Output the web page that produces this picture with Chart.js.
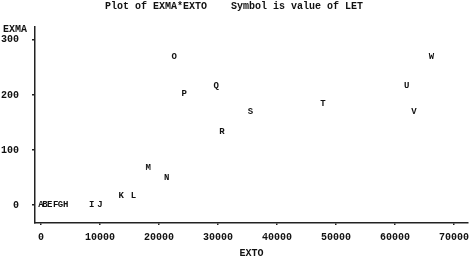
<!DOCTYPE html>
<html>
<head>
<meta charset="utf-8">
<script src="https://cdn.jsdelivr.net/npm/chart.js@4/dist/chart.umd.min.js"></script>
<style>
  html, body { margin: 0; padding: 0; background: #fff; }
  #wrap { width: 475px; height: 259px; position: relative; }
</style>
</head>
<body>
<div id="wrap"><canvas id="plot"></canvas></div>
<script>
// valores (LET = simbolo do ponto)
const letters = ['A', 'B', 'E', 'F', 'G', 'H', 'I', 'J', 'K', 'L', 'M', 'N', 'O', 'P', 'Q', 'R', 'S', 'T', 'U', 'V', 'W'];
const extoValues = [0, 700, 1500, 2500, 3300, 4200, 8600, 10000, 13600, 15700, 18200, 21300, 22600, 24300, 29700, 30700, 35500, 47800, 62000, 63200, 66200];
const exmaValues = [0, 0, 0, 0, 0, 0, 0, 0, 17, 17, 67, 49, 269, 202, 217, 133, 169, 185, 217, 169, 269];
const xTicks = [0, 10000, 20000, 30000, 40000, 50000, 60000, 70000];
const yTicks = [0, 100, 200, 300];

const titleText = 'Plot of EXMA*EXTO    Symbol is value of LET';
const monoFont = "bold 10px 'Liberation Mono', 'DejaVu Sans Mono', monospace";
const letterFont = "bold 9px 'Liberation Mono', 'DejaVu Sans Mono', monospace";

const points = extoValues.map((x, i) => ({ x: x, y: exmaValues[i] }));

// desenha a letra de cada ponto na posicao calculada pelas escalas
const letterPlugin = {
    id: 'letterPlugin',
    afterDatasetsDraw(chart) {
        const ctx = chart.ctx;
        const meta = chart.getDatasetMeta(0);
        ctx.save();
        ctx.font = letterFont;
        ctx.fillStyle = '#111';
        ctx.textAlign = 'center';
        ctx.textBaseline = 'middle';
        meta.data.forEach((el, i) => {
            ctx.fillText(letters[i], el.x, el.y);
        });
        ctx.restore();
    },
    afterDraw(chart) {
        const ctx = chart.ctx;
        ctx.save();
        ctx.font = monoFont;
        ctx.fillStyle = '#111';
        ctx.textBaseline = 'middle';
        ctx.textAlign = 'center';
        ctx.fillText(titleText, 234, 6);
        ctx.textAlign = 'left';
        ctx.fillText('EXMA', 3, 29);
        ctx.restore();
    }
};

new Chart(document.getElementById('plot').getContext('2d'), {
    type: 'scatter',
    data: {
        datasets: [{
            label: 'LET',
            data: points,
            pointRadius: 0,
            pointHoverRadius: 0
        }]
    },
    options: {
        responsive: true,
        maintainAspectRatio: false,
        animation: false,
        layout: { padding: { top: 27, right: 0, left: 0, bottom: 0 } },
        plugins: {
            legend: { display: false },
            tooltip: { enabled: false }
        },
        scales: {
            x: {
                type: 'linear',
                min: -1000,
                max: 72333,
                afterBuildTicks: (scale) => { scale.ticks = xTicks.map(v => ({ value: v })); },
                afterFit: (scale) => { scale.height = 36; },
                grid: { drawOnChartArea: false, drawTicks: true, tickLength: 2, color: '#222', lineWidth: 1.5 },
                border: { display: true, color: '#222', width: 1.5, dash: [4, 2] },
                ticks: {
                    color: '#111',
                    font: { family: "'Liberation Mono', monospace", size: 10, weight: 'bold' },
                    padding: 6,
                    maxRotation: 0,
                    autoSkip: false,
                    callback: (v) => String(v)
                },
                title: {
                    display: true,
                    text: 'EXTO',
                    color: '#111',
                    font: { family: "'Liberation Mono', monospace", size: 10, weight: 'bold' },
                    padding: { top: 5, bottom: 0 }
                }
            },
            y: {
                type: 'linear',
                min: -32.7,
                max: 323.6,
                afterBuildTicks: (scale) => { scale.ticks = yTicks.map(v => ({ value: v })); },
                afterFit: (scale) => { scale.width = 35; },
                grid: { drawOnChartArea: false, drawTicks: true, tickLength: 3, color: '#222', lineWidth: 1.5 },
                border: { display: true, color: '#222', width: 1.5, dash: [2, 2] },
                ticks: {
                    color: '#111',
                    font: { family: "'Liberation Mono', monospace", size: 10, weight: 'bold' },
                    padding: 13,
                    autoSkip: false,
                    callback: (v) => String(v)
                }
            }
        }
    },
    plugins: [letterPlugin]
});
</script>
</body>
</html>
